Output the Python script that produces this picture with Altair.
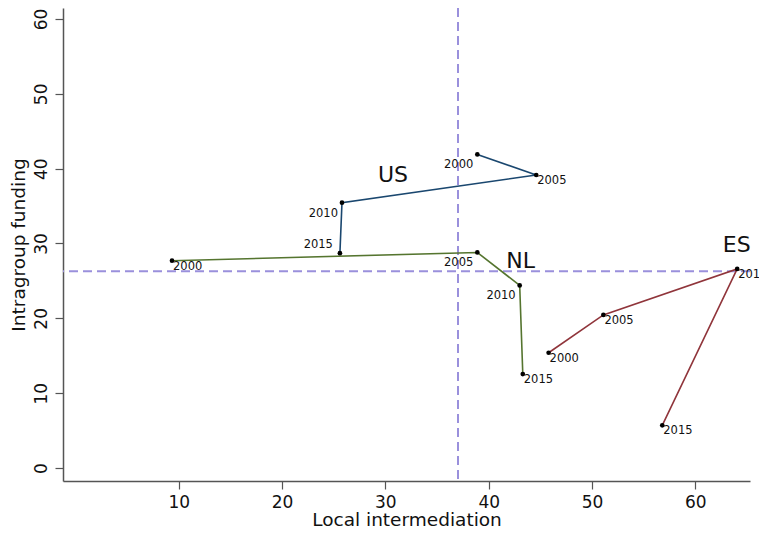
import altair as alt
import pandas as pd

# ---- data ----
countries = ["US", "US", "US", "US", "NL", "NL", "NL", "NL", "ES", "ES", "ES", "ES"]
years = [2000, 2005, 2010, 2015] * 3
local_intermediation = [38.9, 44.6, 25.8, 25.6, 9.35, 38.9, 43.0, 43.3, 45.8, 51.1, 64.05, 56.8]
intragroup_funding = [41.9, 39.15, 35.45, 28.7, 27.7, 28.8, 24.4, 12.55, 15.4, 20.45, 26.6, 5.7]

# year-label placement (clock-style position, like Stata's mlabvposition)
label_sw = [("US", 2000), ("US", 2010), ("NL", 2005), ("NL", 2010)]
label_nw = [("US", 2015)]

country_names = ["US", "NL", "ES"]
country_label_x = [30.74, 43.1, 64.0]
country_label_y = [39.2, 27.6, 29.8]
country_colors = ["#1a476f", "#55752f", "#90353b"]

mean_local = 37.03
mean_intragroup = 26.29

x_ticks = [10, 20, 30, 40, 50, 60]
y_ticks = [0, 10, 20, 30, 40, 50, 60]

FONT = "DejaVu Sans"

df = pd.DataFrame({
    "country": countries,
    "year": years,
    "local": local_intermediation,
    "intra": intragroup_funding,
})
df["year_label"] = df["year"].astype(str)
pos = []
for c, y in zip(countries, years):
    if (c, y) in label_sw:
        pos.append("sw")
    elif (c, y) in label_nw:
        pos.append("nw")
    else:
        pos.append("se")
df["pos"] = pos

labels_df = pd.DataFrame({"country": country_names, "x": country_label_x, "y": country_label_y})

xscale = alt.Scale(domain=[-1.2, 65.29], nice=False, zero=False)
yscale = alt.Scale(domain=[-1.74, 61.47], nice=False, zero=False)

axis_common = dict(
    grid=False, tickSize=8, domainColor="#555555", tickColor="#555555",
    domainWidth=1.5, tickWidth=1.2,
    labelColor="#111111", titleColor="#111111",
    labelFont=FONT, titleFont=FONT, labelFontSize=17, titleFontSize=18.5,
    titleFontWeight="normal",
)

x_enc = alt.X("local:Q", scale=xscale,
              axis=alt.Axis(values=x_ticks, title="Local intermediation",
                            labelPadding=5, titleBaseline="alphabetic", titlePadding=15,
                            **axis_common))
y_enc = alt.Y("intra:Q", scale=yscale,
              axis=alt.Axis(values=y_ticks, title="Intragroup funding",
                            labelAngle=270, labelAlign="center", labelBaseline="alphabetic",
                            labelPadding=9, titlePadding=4, **axis_common))

base = alt.Chart(df)

lines = base.mark_line(strokeWidth=1.6).encode(
    x=x_enc, y=y_enc,
    color=alt.Color("country:N", scale=alt.Scale(domain=country_names, range=country_colors), legend=None),
    order="year:Q",
    detail="country:N",
)

points = base.mark_circle(size=22, color="black", opacity=1).encode(x="local:Q", y="intra:Q")

text_style = dict(font=FONT, fontSize=11.5, color="#111111", baseline="middle")
t_se = base.transform_filter(alt.datum.pos == "se").mark_text(align="left", dx=1, dy=6, **text_style).encode(
    x="local:Q", y="intra:Q", text="year_label:N")
t_sw = base.transform_filter(alt.datum.pos == "sw").mark_text(align="right", dx=-4, dy=11, **text_style).encode(
    x="local:Q", y="intra:Q", text="year_label:N")
t_nw = base.transform_filter(alt.datum.pos == "nw").mark_text(align="right", dx=-7, dy=-8, **text_style).encode(
    x="local:Q", y="intra:Q", text="year_label:N")

country_text = alt.Chart(labels_df).mark_text(font=FONT, fontSize=22, color="#111111",
                                               align="center", baseline="middle").encode(
    x="x:Q", y="y:Q", text="country:N")

ref_style = dict(color="#9a90dc", strokeWidth=2, strokeDash=[9, 5])
vrule = alt.Chart(pd.DataFrame({"v": [mean_local]})).mark_rule(**ref_style).encode(x="v:Q")
hrule = alt.Chart(pd.DataFrame({"h": [mean_intragroup]})).mark_rule(**ref_style).encode(y="h:Q")

chart = alt.layer(vrule, hrule, lines, points, t_se, t_sw, t_nw, country_text).properties(
    width=687, height=473,
    autosize=alt.AutoSizeParams(type="none"),
    padding={"left": 55, "top": 0, "right": 9, "bottom": 47},
    background="white",
).configure_view(stroke=None, strokeWidth=0)

chart.save("out.html", embed_options={"renderer": "svg", "actions": False})
